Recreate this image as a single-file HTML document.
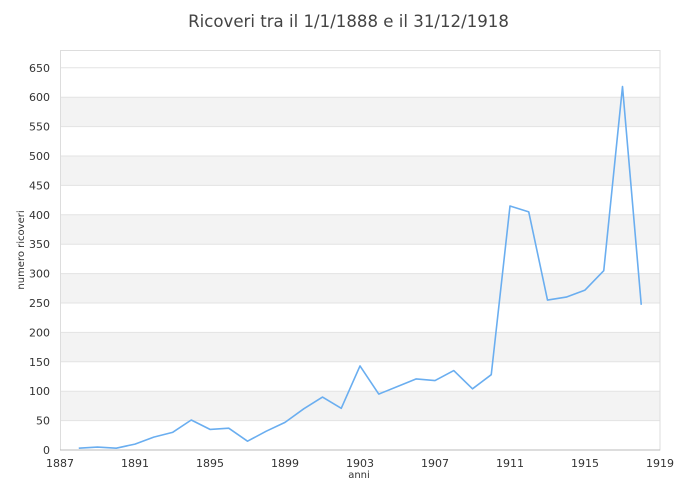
<!DOCTYPE html>
<html><head><meta charset="utf-8"><style>
body{margin:0;background:#fff;}
svg{display:block;font-family:"DejaVu Sans","Liberation Sans",sans-serif;}
</style></head><body>
<svg width="700" height="500" xmlns="http://www.w3.org/2000/svg">
<rect width="700" height="500" fill="#fff"/>
<text x="348.5" y="27" text-anchor="middle" font-size="16.6" fill="#444">Ricoveri tra il 1/1/1888 e il 31/12/1918</text>
<g fill="#f3f3f3">
<rect x="60" y="391.2" width="600" height="29.4"/>
<rect x="60" y="332.4" width="600" height="29.4"/>
<rect x="60" y="273.6" width="600" height="29.4"/>
<rect x="60" y="214.8" width="600" height="29.4"/>
<rect x="60" y="156" width="600" height="29.4"/>
<rect x="60" y="97.2" width="600" height="29.4"/>
</g>
<g stroke="#e3e3e3" stroke-width="1">
<line x1="60" x2="660" y1="420.6" y2="420.6"/><line x1="60" x2="660" y1="391.2" y2="391.2"/>
<line x1="60" x2="660" y1="361.8" y2="361.8"/><line x1="60" x2="660" y1="332.4" y2="332.4"/>
<line x1="60" x2="660" y1="303" y2="303"/><line x1="60" x2="660" y1="273.6" y2="273.6"/>
<line x1="60" x2="660" y1="244.2" y2="244.2"/><line x1="60" x2="660" y1="214.8" y2="214.8"/>
<line x1="60" x2="660" y1="185.4" y2="185.4"/><line x1="60" x2="660" y1="156" y2="156"/>
<line x1="60" x2="660" y1="126.6" y2="126.6"/><line x1="60" x2="660" y1="97.2" y2="97.2"/>
<line x1="60" x2="660" y1="67.8" y2="67.8"/>
</g>
<rect x="60.5" y="50.5" width="599.5" height="399.5" fill="none" stroke="#ddd"/>
<g font-size="11" fill="#333" text-anchor="end">
<text x="50" y="454">0</text><text x="50" y="424.6">50</text><text x="50" y="395.2">100</text>
<text x="50" y="365.8">150</text><text x="50" y="336.4">200</text><text x="50" y="307">250</text>
<text x="50" y="277.6">300</text><text x="50" y="248.2">350</text><text x="50" y="218.8">400</text>
<text x="50" y="189.4">450</text><text x="50" y="160">500</text><text x="50" y="130.6">550</text>
<text x="50" y="101.2">600</text><text x="50" y="71.8">650</text>
</g>
<g stroke="#bbb"><line x1="60" x2="660" y1="450" y2="450"/></g>
<g font-size="11" fill="#333" text-anchor="middle">
<text x="60" y="467">1887</text><text x="135" y="467">1891</text><text x="210" y="467">1895</text>
<text x="285" y="467">1899</text><text x="360" y="467">1903</text><text x="435" y="467">1907</text>
<text x="510" y="467">1911</text><text x="585" y="467">1915</text><text x="660" y="467">1919</text>
</g>
<text x="359" y="478" font-size="10" fill="#333" text-anchor="middle">anni</text>
<text x="24" y="250" font-size="10" fill="#333" text-anchor="middle" transform="rotate(-90 24 250)">numero ricoveri</text>
<polyline fill="none" stroke="#6aaef0" stroke-width="1.6" stroke-linejoin="round" points="
78.75,448.2 97.5,447.1 116.25,448.2 135,444.1 153.75,437.1 172.5,432.4 191.25,420 210,429.4 228.75,428.2 247.5,441.2 266.25,431.2 285,422.4 303.75,408.8 322.5,397.1 341.25,408.3 360,365.9 378.75,394.1 397.5,386.5 416.25,378.9 435,380.6 453.75,370.6 472.5,388.8 491.25,374.7 510,206 528.75,211.9 547.5,300.1 566.25,297.1 585,290.1 603.75,270.7 622.5,86.6 641.25,304.8"/>
</svg>
</body></html>
